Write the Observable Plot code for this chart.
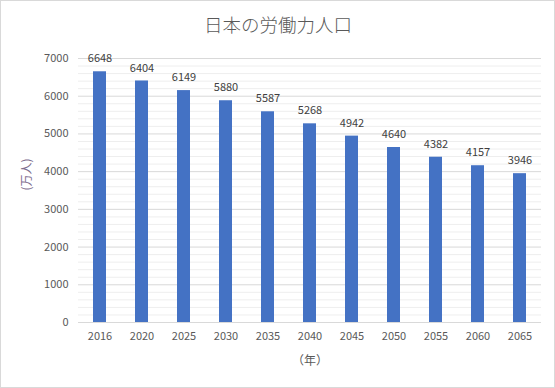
<!DOCTYPE html>
<html><head><meta charset="utf-8">
<script src="https://cdn.jsdelivr.net/npm/d3@7"></script>
<script src="https://cdn.jsdelivr.net/npm/@observablehq/plot@0.6"></script>
<style>
html,body{margin:0;padding:0;background:#fff;}
#wrap{position:relative;width:555px;height:388px;overflow:hidden;}
#border{position:absolute;left:0;top:0;width:555px;height:388px;box-sizing:border-box;border:1px solid #d9d9d9;pointer-events:none;}
svg{display:block;}
</style></head>
<body>
<div id="wrap"><div id="chart"></div><div id="border"></div></div>
<script>
const years = ["2016","2020","2025","2030","2035","2040","2045","2050","2055","2060","2065"];
const values = [6648,6404,6149,5880,5587,5268,4942,4640,4382,4157,3946];
const title = "日本の労働力人口";
const yLabel = "(万人)";
const xLabel = "（年）";
const yTicks = [0,1000,2000,3000,4000,5000,6000,7000];
const minorTicks = d3.range(0, 7001, 200).filter(v => v % 1000 !== 0);

const data = years.map((y, i) => ({year: y, value: values[i]}));
const font = "'Noto Sans CJK JP', 'Noto Sans', sans-serif";

const chart = Plot.plot({
  width: 555,
  height: 388,
  marginLeft: 78,
  marginRight: 14,
  marginTop: 58,
  marginBottom: 66,
  style: {fontFamily: font, fontSize: "11px", color: "#595959", background: "#fff"},
  x: {domain: years, paddingInner: 0.69, paddingOuter: 0.345, label: null},
  y: {domain: [0, 7000], label: null},
  marks: [
    Plot.ruleY(minorTicks, {stroke: "#eeeeee", strokeWidth: 1}),
    Plot.ruleY(yTicks, {stroke: "#d9d9d9", strokeWidth: 1}),
    Plot.barY(data, {x: "year", y: "value", fill: "#4472c4"}),
    Plot.text(data, {x: "year", y: "value", text: d => String(d.value), dy: -13, fill: "#404040", fontSize: 11}),
    Plot.axisY({ticks: yTicks, tickFormat: d => String(d), tickSize: 0, tickPadding: 10, label: null, fill: "#595959", fontSize: 11}),
    Plot.axisX({tickSize: 0, tickPadding: 10, label: null, fill: "#595959", fontSize: 11}),
    Plot.text([title], {frameAnchor: "top", dx: -32, dy: -40, fill: "#595959", fontSize: 18.5, fontWeight: 300, text: d => d}),
    Plot.text([xLabel], {frameAnchor: "bottom", dy: 42, fill: "#595959", fontSize: 12, text: d => d}),
    Plot.text([yLabel], {frameAnchor: "left", dx: -51, rotate: -90, fill: "#7f6f8f", fontSize: 12, text: d => d})
  ]
});
document.getElementById("chart").appendChild(chart);
</script>
</body></html>
